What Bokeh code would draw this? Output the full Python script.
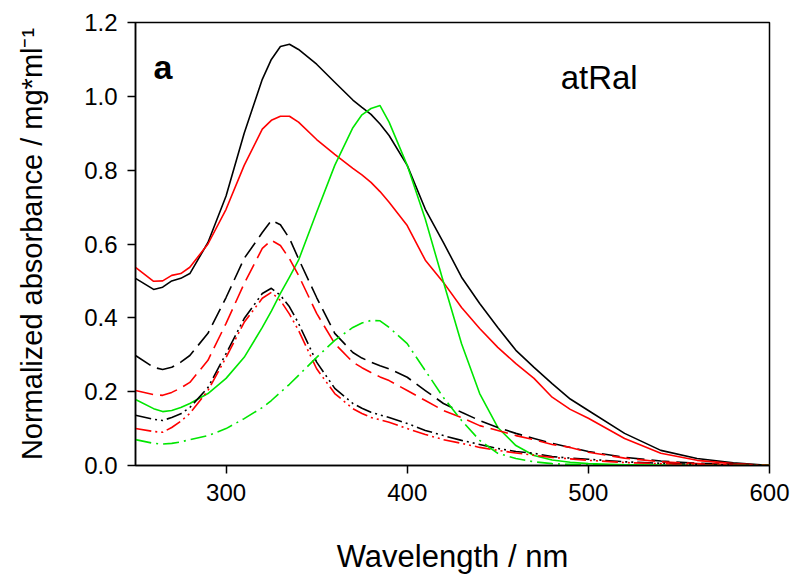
from bokeh.plotting import figure
from bokeh.models import Range1d, FixedTicker, PrintfTickFormatter, Label
from bokeh.embed import file_html
from bokeh.resources import INLINE

wavelength = [250, 260, 265, 270, 275, 280, 290, 300, 310, 320, 325, 330, 335, 340, 350, 360,
              370, 375, 380, 385, 390, 400, 410, 420, 430, 440, 450, 460, 470, 480, 490, 500,
              520, 540, 560, 580, 600]

black_solid = [0.507, 0.477, 0.483, 0.500, 0.507, 0.520, 0.604, 0.730, 0.900, 1.046, 1.100, 1.135,
               1.141, 1.127, 1.087, 1.038, 0.990, 0.970, 0.951, 0.925, 0.894, 0.813, 0.694, 0.604,
               0.510, 0.439, 0.374, 0.312, 0.266, 0.222, 0.180, 0.149, 0.087, 0.041, 0.019, 0.007,
               0.0]
red_solid = [0.537, 0.499, 0.500, 0.515, 0.520, 0.537, 0.600, 0.694, 0.813, 0.911, 0.935, 0.946,
             0.946, 0.930, 0.883, 0.843, 0.805, 0.787, 0.767, 0.742, 0.713, 0.650, 0.556, 0.496,
             0.428, 0.371, 0.320, 0.276, 0.236, 0.185, 0.152, 0.128, 0.073, 0.033, 0.014, 0.005,
             0.0]
green_solid = [0.179, 0.154, 0.146, 0.149, 0.157, 0.168, 0.195, 0.236, 0.293, 0.374, 0.418, 0.466,
               0.510, 0.556, 0.686, 0.813, 0.915, 0.950, 0.967, 0.975, 0.930, 0.813, 0.667, 0.497,
               0.330, 0.195, 0.103, 0.054, 0.027, 0.015, 0.009, 0.005, 0.002, 0.001, 0.0, 0.0, 0.0]
black_dash = [0.298, 0.266, 0.260, 0.266, 0.280, 0.298, 0.358, 0.455, 0.561, 0.631, 0.664, 0.652,
              0.615, 0.560, 0.455, 0.358, 0.306, 0.291, 0.280, 0.270, 0.262, 0.239, 0.203, 0.168,
              0.144, 0.122, 0.103, 0.087, 0.073, 0.060, 0.049, 0.038, 0.022, 0.012, 0.006, 0.003,
              0.0]
red_dash = [0.203, 0.192, 0.190, 0.198, 0.210, 0.225, 0.285, 0.385, 0.493, 0.588, 0.610, 0.596,
            0.560, 0.515, 0.412, 0.330, 0.280, 0.265, 0.252, 0.240, 0.230, 0.203, 0.176, 0.149,
            0.130, 0.108, 0.095, 0.081, 0.070, 0.057, 0.049, 0.036, 0.020, 0.010, 0.005, 0.002,
            0.0]
black_dashdot = [0.136, 0.125, 0.122, 0.130, 0.140, 0.157, 0.211, 0.303, 0.398, 0.466, 0.480, 0.461,
                 0.430, 0.385, 0.280, 0.209, 0.168, 0.155, 0.144, 0.137, 0.130, 0.114, 0.095, 0.081,
                 0.068, 0.057, 0.046, 0.038, 0.033, 0.024, 0.020, 0.017, 0.010, 0.006, 0.003, 0.001,
                 0.0]
red_dashdot = [0.100, 0.092, 0.090, 0.103, 0.120, 0.141, 0.203, 0.293, 0.388, 0.453, 0.469, 0.447,
               0.410, 0.366, 0.262, 0.195, 0.154, 0.141, 0.130, 0.124, 0.117, 0.100, 0.084, 0.070,
               0.060, 0.049, 0.041, 0.034, 0.028, 0.022, 0.018, 0.014, 0.008, 0.005, 0.002, 0.001,
               0.0]
green_dashdot = [0.070, 0.060, 0.058, 0.060, 0.064, 0.070, 0.081, 0.100, 0.127, 0.157, 0.176, 0.198,
                 0.220, 0.244, 0.293, 0.339, 0.374, 0.386, 0.393, 0.392, 0.374, 0.330, 0.257, 0.184,
                 0.122, 0.068, 0.033, 0.019, 0.010, 0.005, 0.003, 0.002, 0.001, 0.0, 0.0, 0.0, 0.0]

x_ticks = [300, 400, 500, 600]
y_ticks = [0.0, 0.2, 0.4, 0.6, 0.8, 1.0, 1.2]

FONT = "Liberation Sans"
BLACK = "#000000"
RED = "#ff0000"
GREEN = "#00e600"

p = figure(frame_width=634, frame_height=443,
           x_range=Range1d(250, 600), y_range=Range1d(0, 1.2),
           output_backend="svg", toolbar_location=None,
           min_border_left=135, min_border_right=27, min_border_top=22, min_border_bottom=110)

series = [
    (black_solid, BLACK, "solid"),
    (red_solid, RED, "solid"),
    (green_solid, GREEN, "solid"),
    (black_dash, BLACK, "18 7"),
    (red_dash, RED, "18 7"),
    (black_dashdot, BLACK, "16 4 2 4 2 4"),
    (red_dashdot, RED, "16 4 2 4 2 4"),
    (green_dashdot, GREEN, "16 5 2 5"),
]
for ys, col, dash in series:
    p.line(wavelength, ys, line_color=col, line_width=1.6, line_dash=dash,
           line_join="round")

p.xgrid.visible = False
p.ygrid.visible = False
p.outline_line_color = "black"
p.outline_line_width = 1.5

for ax in (p.xaxis[0], p.yaxis[0]):
    ax.axis_line_width = 1.5
    ax.axis_line_color = "black"
    ax.major_tick_line_width = 1.5
    ax.major_tick_line_color = "black"
    ax.major_tick_out = 8
    ax.major_tick_in = 0
    ax.minor_tick_line_color = None
    ax.major_label_text_font = FONT
    ax.major_label_text_font_size = "24px"
    ax.major_label_text_color = "black"
    ax.axis_label_text_font = FONT
    ax.axis_label_text_font_style = "normal"
    ax.axis_label_text_color = "black"

p.xaxis.ticker = FixedTicker(ticks=x_ticks)
p.yaxis.ticker = FixedTicker(ticks=y_ticks)
p.yaxis.formatter = PrintfTickFormatter(format="%.1f")
p.xaxis.major_label_standoff = 10
p.yaxis.major_label_standoff = 10
p.xaxis.axis_label = "Wavelength / nm"
p.xaxis.axis_label_text_font_size = "31px"
p.xaxis.axis_label_standoff = 35
p.yaxis.axis_label = "Normalized absorbance / mg*ml\u207b\u00b9"
p.yaxis.axis_label_text_font_size = "29px"
p.yaxis.axis_label_standoff = 33

p.add_layout(Label(x=260, y=1.079, text="a", text_font=FONT, text_font_size="34px",
                   text_font_style="bold", text_color="black", text_baseline="alphabetic"))
p.add_layout(Label(x=484.7, y=1.051, text="atRal", text_font=FONT, text_font_size="33px",
                   text_color="black", text_baseline="alphabetic"))

open("out.html", "w").write(file_html(p, INLINE))
